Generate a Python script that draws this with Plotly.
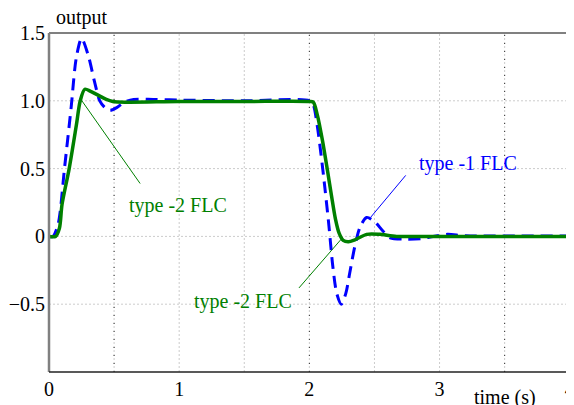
import plotly.graph_objects as go

# Type-2 FLC response (green solid)
t2_time = [0, 0.05, 0.08, 0.10, 0.155, 0.21, 0.24, 0.275, 0.32, 0.38, 0.44, 0.49, 0.6, 1.0, 1.5, 2.0,
           2.03, 2.06, 2.10, 2.14, 2.17, 2.20, 2.23, 2.26, 2.30, 2.35, 2.44, 2.54, 2.67, 3.0, 4.0]
t2_out = [0, 0.0, 0.06, 0.235, 0.5, 0.82, 1.0, 1.085, 1.07, 1.04, 1.01, 0.995, 0.99, 0.995, 0.995, 0.995,
          0.99, 0.90, 0.71, 0.48, 0.30, 0.13, 0.02, -0.03, -0.04, -0.025, 0.015, 0.015, 0.0, 0.0, 0.0]

# Type-1 FLC response (blue dashed)
t1_time = [0, 0.03, 0.07, 0.12, 0.17, 0.21, 0.25, 0.30, 0.35, 0.39, 0.43, 0.47, 0.52, 0.58, 0.65, 0.8, 1.0, 1.5, 2.0,
           2.03, 2.06, 2.09, 2.12, 2.15, 2.18, 2.21, 2.245, 2.28, 2.31, 2.35, 2.39, 2.44, 2.50, 2.565, 2.62, 2.73,
           2.87, 2.95, 3.06, 3.2, 4.0]
t1_out = [0, 0.0, 0.09, 0.51, 0.95, 1.32, 1.46, 1.34, 1.14, 1.0, 0.95, 0.93, 0.95, 0.99, 1.01, 1.01, 1.005, 1.0, 1.0,
          0.97, 0.82, 0.60, 0.35, 0.08, -0.22, -0.42, -0.50, -0.42, -0.27, -0.07, 0.07, 0.14, 0.11, 0.04, -0.01, -0.02,
          -0.015, 0.0, 0.015, 0.005, 0.003]

x_tickvals = [0, 1, 2, 3, 4]
x_ticktext = ["0", "1", "2", "3", "4"]
y_tickvals = [-0.5, 0, 0.5, 1.0, 1.5]
y_ticktext = ["\u22120.5", "0", "0.5", "1.0", "1.5"]

BLUE = "#0000ff"
GREEN = "#008000"
FONT = "Liberation Serif"

OFF = 8  # page body margin
W, H = 574, 405 - OFF
L, R, T, B = 49 - OFF, 4 + OFF, 33 - OFF, 33
pw, ph = W - L - R, H - T - B


def px_to_paper(px, py):
    px -= OFF
    py -= OFF
    return (px - L) / pw, 1 - (py - T) / ph


fig = go.Figure()
fig.add_trace(go.Scatter(x=t1_time, y=t1_out, mode="lines", name="type-1 FLC",
                         line=dict(color=BLUE, width=3, dash="12px,7px", shape="spline", smoothing=0.8)))
fig.add_trace(go.Scatter(x=t2_time, y=t2_out, mode="lines", name="type-2 FLC",
                         line=dict(color=GREEN, width=3.5, shape="spline", smoothing=0.8)))

shapes = []
for xv in [0.5, 1, 1.5, 2, 2.5, 3, 3.5]:
    shapes.append(dict(type="line", xref="x", yref="paper", x0=xv, x1=xv, y0=0, y1=1,
                       line=dict(color="#cccccc", width=1, dash="2px,2px"), layer="below"))
for xv in [0.5, 2, 3.5]:
    shapes.append(dict(type="line", xref="x", yref="paper", x0=xv, x1=xv, y0=0, y1=1,
                       line=dict(color="#333333", width=1, dash="1px,7px"), layer="below"))
for yv in [-0.5, 0, 0.5, 1.0]:
    shapes.append(dict(type="line", xref="paper", yref="y", x0=0, x1=1, y0=yv, y1=yv,
                       line=dict(color="#cccccc", width=1, dash="2px,2px"), layer="below"))
# frame
shapes.append(dict(type="line", xref="paper", yref="paper", x0=0, x1=1, y0=1, y1=1,
                   line=dict(color="#808080", width=2)))
shapes.append(dict(type="line", xref="paper", yref="paper", x0=0, x1=0, y0=0, y1=1,
                   line=dict(color="#808080", width=2.5)))
shapes.append(dict(type="line", xref="paper", yref="paper", x0=1, x1=1, y0=0, y1=1,
                   line=dict(color="#808080", width=1.5)))
shapes.append(dict(type="line", xref="paper", yref="paper", x0=0, x1=1, y0=0, y1=0,
                   line=dict(color="#222222", width=1.5)))
# annotation leader lines
shapes.append(dict(type="line", xref="x", yref="y", x0=0.238, y0=1.02, x1=0.70, y1=0.39,
                   line=dict(color=GREEN, width=1)))
shapes.append(dict(type="line", xref="x", yref="y", x0=1.92, y0=-0.38, x1=2.245, y1=-0.02,
                   line=dict(color=GREEN, width=1)))
shapes.append(dict(type="line", xref="x", yref="y", x0=2.74, y0=0.45, x1=2.47, y1=0.14,
                   line=dict(color=BLUE, width=1)))

ox, oy = px_to_paper(82, 18)
tx, ty = px_to_paper(505, 397)
annotations = [
    dict(x=0.99, y=0.23, xref="x", yref="y", text="type -2 FLC", showarrow=False,
         font=dict(family=FONT, size=20, color=GREEN)),
    dict(x=1.49, y=-0.48, xref="x", yref="y", text="type -2 FLC", showarrow=False,
         font=dict(family=FONT, size=20, color=GREEN)),
    dict(x=3.22, y=0.54, xref="x", yref="y", text="type -1 FLC", showarrow=False,
         font=dict(family=FONT, size=20, color=BLUE)),
    dict(x=ox, y=oy, xref="paper", yref="paper", text="output", showarrow=False,
         xanchor="center", yanchor="middle",
         font=dict(family=FONT, size=20, color="black")),
    dict(x=tx, y=ty, xref="paper", yref="paper", text="time (s)", showarrow=False,
         xanchor="center", yanchor="middle",
         font=dict(family=FONT, size=20, color="black")),
]

fig.update_layout(
    width=W, height=H,
    margin=dict(l=L, r=R, t=T, b=B, autoexpand=False),
    paper_bgcolor="white", plot_bgcolor="white",
    showlegend=False,
    font=dict(family=FONT, size=20, color="black"),
    shapes=shapes,
    annotations=annotations,
    xaxis=dict(range=[0, 4.002], tickvals=x_tickvals, ticktext=x_ticktext, showgrid=False,
               zeroline=False, showline=False, ticks="", ticklabelstandoff=3, automargin=False,
               ticklabeloverflow="allow", tickfont=dict(family=FONT, size=20)),
    yaxis=dict(range=[-1, 1.5], tickvals=y_tickvals, ticktext=y_ticktext, showgrid=False,
               zeroline=False, showline=False, ticks="", ticklabelstandoff=3, automargin=False,
               tickfont=dict(family=FONT, size=20)),
)
fig.write_html("out.html")
